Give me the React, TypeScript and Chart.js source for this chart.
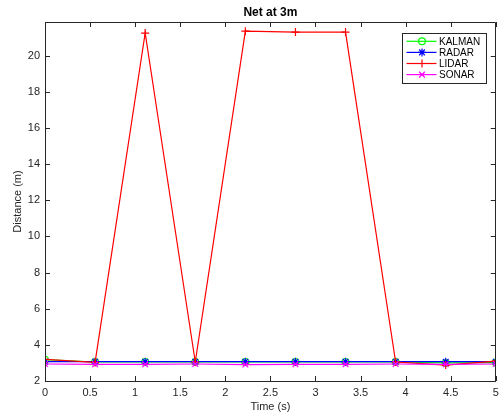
import React, { useEffect, useRef } from 'react';
import { Chart, registerables } from 'chart.js';

Chart.register(...registerables);

const chartTitle = 'Net at 3m';
const xAxisLabel = 'Time (s)';
const yAxisLabel = 'Distance (m)';

const timeValues = [0, 0.5556, 1.1111, 1.6667, 2.2222, 2.7778, 3.3333, 3.8889, 4.4444, 5];
const kalmanValues = [3.18, 3.05, 3.05, 3.05, 3.05, 3.05, 3.05, 3.05, 3.0, 3.02];
const radarValues = [3.07, 3.07, 3.07, 3.07, 3.07, 3.07, 3.07, 3.07, 3.07, 3.07];
const lidarValues = [3.2, 3.03, 21.25, 3.05, 21.35, 21.3, 21.3, 3.05, 2.88, 3.1];
const sonarValues = [2.94, 2.92, 2.92, 2.94, 2.91, 2.92, 2.92, 2.94, 2.92, 2.94];

const seriesNames = ['KALMAN', 'RADAR', 'LIDAR', 'SONAR'];
const seriesColors = ['#00ff00', '#0000ff', '#ff0000', '#ff00ff'];
const seriesMarkers = ['circle', 'star', 'cross', 'crossRot'];

const xTicks = [0, 0.5, 1, 1.5, 2, 2.5, 3, 3.5, 4, 4.5, 5];
const xTickLabels = ['0', '0.5', '1', '1.5', '2', '2.5', '3', '3.5', '4', '4.5', '5'];
const yTicks = [2, 4, 6, 8, 10, 12, 14, 16, 18, 20];
const yTickLabels = ['2', '4', '6', '8', '10', '12', '14', '16', '18', '20'];

const X_MIN = 0;
const X_MAX = 5;
const Y_MIN = 2;
const Y_MAX = 21.86;

const AXIS_COLOR = '#262626';
const FONT = '"Liberation Sans", Arial, Helvetica, sans-serif';

function drawMarker(ctx: CanvasRenderingContext2D, style: string, x: number, y: number, r: number) {
  ctx.beginPath();
  if (style === 'circle') {
    ctx.arc(x, y, r * 0.85, 0, Math.PI * 2);
  } else {
    const d = r * 0.72;
    if (style === 'cross' || style === 'star') {
      ctx.moveTo(x - r, y);
      ctx.lineTo(x + r, y);
      ctx.moveTo(x, y - r);
      ctx.lineTo(x, y + r);
    }
    if (style === 'crossRot' || style === 'star') {
      ctx.moveTo(x - d, y - d);
      ctx.lineTo(x + d, y + d);
      ctx.moveTo(x - d, y + d);
      ctx.lineTo(x + d, y - d);
    }
  }
  ctx.stroke();
}

const matlabPlugin = {
  id: 'matlabDecor',
  afterDraw(chart: any) {
    const { ctx, chartArea } = chart;
    const { left, right, top, bottom } = chartArea;
    const xs = chart.scales.x;
    const ys = chart.scales.y;
    ctx.save();
    // box
    ctx.strokeStyle = AXIS_COLOR;
    ctx.lineWidth = 1;
    ctx.beginPath();
    ctx.rect(Math.round(left) + 0.5, Math.round(top) + 0.5, Math.round(right - left) - 1, Math.round(bottom - top));
    ctx.stroke();
    // inward ticks
    const tl = 5;
    ctx.beginPath();
    xTicks.forEach((v) => {
      const px = Math.round(xs.getPixelForValue(v)) + 0.5;
      ctx.moveTo(px, bottom);
      ctx.lineTo(px, bottom - tl);
      ctx.moveTo(px, top);
      ctx.lineTo(px, top + tl);
    });
    yTicks.forEach((v) => {
      const py = Math.round(ys.getPixelForValue(v)) + 0.5;
      ctx.moveTo(left, py);
      ctx.lineTo(left + tl, py);
      ctx.moveTo(right, py);
      ctx.lineTo(right - tl, py);
    });
    ctx.stroke();

    // title
    ctx.fillStyle = '#000000';
    ctx.font = `bold 12px ${FONT}`;
    ctx.textAlign = 'center';
    ctx.textBaseline = 'middle';
    ctx.fillText(chartTitle, (left + right) / 2, 12.5);

    // legend
    const bw = 84;
    const bh = 50;
    const bx = Math.round(right - bw - 10) + 0.5;
    const by = Math.round(top + 11) + 0.5;
    ctx.fillStyle = '#ffffff';
    ctx.fillRect(bx, by, bw, bh);
    ctx.strokeStyle = AXIS_COLOR;
    ctx.lineWidth = 1;
    ctx.strokeRect(bx, by, bw, bh);
    ctx.font = `10px ${FONT}`;
    ctx.textAlign = 'left';
    ctx.textBaseline = 'middle';
    seriesNames.forEach((name, i) => {
      const ey = by + 7.8 + i * 11.1;
      ctx.strokeStyle = seriesColors[i];
      ctx.lineWidth = 1.2;
      ctx.beginPath();
      ctx.moveTo(bx + 4, ey);
      ctx.lineTo(bx + 34, ey);
      ctx.stroke();
      drawMarker(ctx, seriesMarkers[i], bx + 19.5, ey, 4);
      ctx.fillStyle = '#000000';
      ctx.fillText(name, bx + 36.5, ey + 0.5);
    });
    ctx.restore();
  },
};

export default function App() {
  const canvasRef = useRef<HTMLCanvasElement | null>(null);

  useEffect(() => {
    document.body.style.margin = '0';
    const canvas = canvasRef.current;
    if (!canvas) return;
    const allValues = [kalmanValues, radarValues, lidarValues, sonarValues];
    const datasets = seriesNames.map((name, i) => ({
      label: name,
      data: timeValues.map((t, j) => ({ x: t, y: allValues[i][j] })),
      borderColor: seriesColors[i],
      backgroundColor: 'rgba(0,0,0,0)',
      pointBorderColor: seriesColors[i],
      pointBackgroundColor: 'rgba(0,0,0,0)',
      pointStyle: seriesMarkers[i],
      pointRadius: seriesMarkers[i] === 'circle' ? 3.4 : 4,
      pointBorderWidth: 1.2,
      borderWidth: 1.2,
      tension: 0,
      fill: false,
      order: 3 - i,
    }));

    const chart = new Chart(canvas, {
      type: 'line',
      data: { datasets },
      plugins: [matlabPlugin],
      options: {
        animation: false,
        responsive: false,
        devicePixelRatio: 1,
        events: [],
        layout: { padding: { top: 22, left: 0, right: 1, bottom: 0 } },
        plugins: {
          legend: { display: false },
          title: { display: false },
          tooltip: { enabled: false },
        },
        scales: {
          x: {
            type: 'linear',
            min: X_MIN,
            max: X_MAX,
            afterBuildTicks: (scale: any) => {
              scale.ticks = xTicks.map((v) => ({ value: v }));
            },
            afterFit: (scale: any) => {
              scale.height = 38;
              scale.paddingLeft = 0;
              scale.paddingRight = 0;
            },
            ticks: {
              autoSkip: false,
              maxRotation: 0,
              padding: 5,
              color: AXIS_COLOR,
              font: { family: FONT, size: 11 },
              callback: (_v: any, i: number) => xTickLabels[i],
            },
            grid: { display: false, drawTicks: false },
            border: { display: false },
            title: {
              display: true,
              text: xAxisLabel,
              color: AXIS_COLOR,
              font: { family: FONT, size: 11 },
              padding: { top: 0, bottom: 5 },
            },
          },
          y: {
            type: 'linear',
            min: Y_MIN,
            max: Y_MAX,
            afterBuildTicks: (scale: any) => {
              scale.ticks = yTicks.map((v) => ({ value: v }));
            },
            afterFit: (scale: any) => {
              scale.width = 45;
              scale.paddingTop = 0;
              scale.paddingBottom = 0;
            },
            ticks: {
              autoSkip: false,
              padding: 5,
              color: AXIS_COLOR,
              font: { family: FONT, size: 11 },
              callback: (_v: any, i: number) => yTickLabels[i],
            },
            grid: { display: false, drawTicks: false },
            border: { display: false },
            title: {
              display: true,
              text: yAxisLabel,
              color: AXIS_COLOR,
              font: { family: FONT, size: 11 },
              padding: { top: 11, bottom: 0 },
            },
          },
        },
      } as any,
    });
    return () => {
      chart.destroy();
    };
  }, []);

  return (
    <div style={{ position: 'absolute', left: 0, top: 0, width: 501, height: 419, background: '#ffffff' }}>
      <canvas ref={canvasRef} width={501} height={419} style={{ display: 'block' }} />
    </div>
  );
}
